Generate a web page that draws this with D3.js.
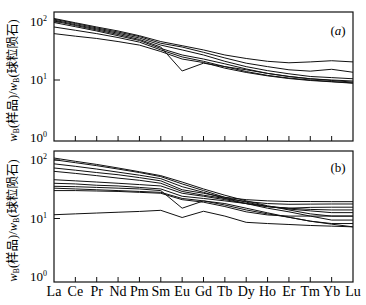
<!DOCTYPE html>
<html>
<head>
<meta charset="utf-8">
<script src="https://cdnjs.cloudflare.com/ajax/libs/d3/7.8.5/d3.min.js"></script>
<style>
body{margin:0;background:#fff;}
svg{display:block;}
</style>
</head>
<body>
<div id="chart"></div>
<script>
var elements = ["La","Ce","Pr","Nd","Pm","Sm","Eu","Gd","Tb","Dy","Ho","Er","Tm","Yb","Lu"];
var yTicks = [1,10,100];

// panel (a) samples, chondrite normalised
var seriesA = [
	[115,97,82,70,58,46,39,33,27,23.5,21,19.8,20.5,21.5,20.5],
	[112,94,79,67,56,43,37,30,24,19.5,17,15,14.2,15.3,13.6],
	[108,90,76,64,53,40,33,27,21,17,14.5,12.8,11.5,11,10.5],
	[104,87,73,61,50,37,14.3,19.5,17,15,13,11.5,10.5,10,9.6],
	[98,83,70,58,48,35,27,23,19,15.5,13,11.5,10.5,9.8,9.2],
	[82,72,63,54,45,33,25,21,17,14,12,10.8,10,9.4,8.9],
	[63,57,52,46,40,31,23,20,16,13.5,11.8,10.6,9.8,9.3,8.8]
];

// panel (b)
var seriesB = [
	[108,95,84,73,63,54,42,32,25,20,16.5,14,12,11,11],
	[101,90,80,70,61,52,39,30,23,19,16,14.5,13.5,12.6,12.6],
	[86,78,70,62,55,48,35,28,22,18,15,13,11,9.4,9.4],
	[73,67,61,56,50,44,31,27,23,21,20,19.5,19.5,19.4,19.4],
	[64,59,54,49,45,40,29,25,22,19.5,18,17.5,17.6,17.7,17.7],
	[46,44,42,40,38,36,27,24,21,18,16,15,15.5,15.6,15.6],
	[40,39,37,36,34,32,24,22,20,18,16,15,14.3,14,14],
	[35.5,35,34,33,32,30,15,20,18,15,12.5,10.5,9,8.2,8.2],
	[33,32,31,30,29,28,22,20,17,14,12,10.5,9,8,7.2],
	[30,30,29.5,29,28,27,21,19,16,13,11.5,11,11,11,11],
	[11.6,12,12.4,12.8,13.2,13.8,10.4,13.3,11,8.6,8.2,7.9,7.6,7.4,7.2]
];

var W = 366, H = 305;
var svg = d3.select("#chart").append("svg").attr("width",W).attr("height",H);

var x = d3.scalePoint().domain(elements).range([54,353]).padding(0);

var serif = "'Liberation Serif','DejaVu Serif',serif";
var cjk = "'Liberation Serif','Noto Sans CJK SC',serif";

function panel(series, top, bottom, y1, y100, tag, tagY, showX){
	var y = d3.scaleLog().domain([1,100]).range([y1,y100]);
	var g = svg.append("g");

	g.append("rect").attr("x",54).attr("y",top)
		.attr("width",353-54).attr("height",bottom-top)
		.attr("fill","none").attr("stroke","#111").attr("stroke-width",1.2);

	// inward ticks
	g.selectAll(".xt").data(elements.slice(1,-1)).enter().append("line")
		.attr("x1",function(d){return x(d);}).attr("x2",function(d){return x(d);})
		.attr("y1",bottom).attr("y2",bottom-5)
		.attr("stroke","#111");
	g.selectAll(".yt").data([10,100]).enter().append("line")
		.attr("x1",54).attr("x2",60)
		.attr("y1",function(d){return y(d);}).attr("y2",function(d){return y(d);})
		.attr("stroke","#111");

	// y tick labels 10^n
	var lab = g.selectAll(".yl").data(yTicks).enter().append("text")
		.attr("x",47).attr("y",function(d){return y(d)+4;})
		.attr("text-anchor","end")
		.style("font-family",serif).style("font-size","13px");
	lab.append("tspan").text("10");
	lab.append("tspan").attr("dy",-5).style("font-size","8px")
		.text(function(d){return Math.round(Math.log10(d));});

	var line = d3.line()
		.x(function(d,i){return x(elements[i]);})
		.y(function(d){return y(d);});
	g.selectAll(".s").data(series).enter().append("path")
		.attr("d",line).attr("fill","none")
		.attr("stroke","#111").attr("stroke-width",1);

	var t = g.append("text").attr("x",338).attr("y",tagY).attr("text-anchor","middle")
		.style("font-family",serif).style("font-size","13px");
	t.append("tspan").text("(");
	t.append("tspan").style("font-style",tag=="a"?"italic":"normal").text(tag);
	t.append("tspan").text(")");

	// y axis title
	var cy = (top+bottom)/2 + 4;
	var yt = g.append("text").attr("transform","translate(17,"+cy+") rotate(-90)")
		.attr("text-anchor","middle")
		.style("font-family",cjk).style("font-size","12.5px");
	yt.append("tspan").style("font-style","italic").text("w");
	yt.append("tspan").attr("dy",2).style("font-size","8px").text("B");
	yt.append("tspan").attr("dy",-2).text("(样品)/");
	yt.append("tspan").style("font-style","italic").text("w");
	yt.append("tspan").attr("dy",2).style("font-size","8px").text("B");
	yt.append("tspan").attr("dy",-2).text("(球粒陨石)");

	if(showX){
		g.selectAll(".xl").data(elements).enter().append("text")
			.attr("x",function(d){return x(d);}).attr("y",bottom+14)
			.attr("text-anchor","middle")
			.style("font-family",serif).style("font-size","14px")
			.text(function(d){return d;});
	}
}

panel(seriesA, 12, 141, 138, 22, "a", 35, false);
panel(seriesB, 151, 282, 277, 160, "b", 172, true);
</script>
</body>
</html>
